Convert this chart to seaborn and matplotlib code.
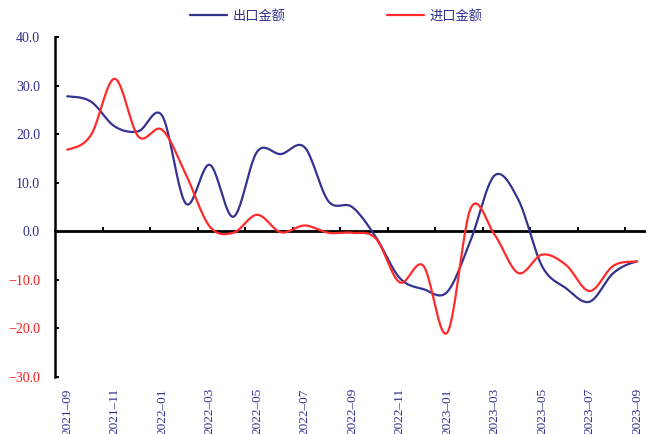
import numpy as np
import pandas as pd
import matplotlib
matplotlib.use("Agg")
import matplotlib.pyplot as plt
import seaborn as sns

# Monthly year-on-year growth (%), 2021-09 .. 2023-09
months = ["2021-09", "2021-10", "2021-11", "2021-12", "2022-01", "2022-02",
          "2022-03", "2022-04", "2022-05", "2022-06", "2022-07", "2022-08",
          "2022-09", "2022-10", "2022-11", "2022-12", "2023-01", "2023-02",
          "2023-03", "2023-04", "2023-05", "2023-06", "2023-07", "2023-08",
          "2023-09"]
export_growth = [27.8, 26.7, 21.6, 20.6, 23.8, 5.7, 13.7, 3.0, 16.4, 15.9,
                 17.3, 6.2, 5.0, -1.2, -9.6, -11.9, -12.5, -1.7, 11.5, 6.5,
                 -7.2, -11.7, -14.5, -8.6, -6.2]
import_growth = [16.8, 19.8, 31.4, 19.5, 20.9, 11.7, 1.0, -0.3, 3.4, -0.2,
                 1.2, -0.3, -0.3, -1.5, -10.5, -7.1, -20.9, 4.8, -0.7, -8.6,
                 -4.8, -6.9, -12.3, -7.1, -6.2]
series_names = ["出口金额", "进口金额"]
y_ticks = [-30, -20, -10, 0, 10, 20, 30, 40]

NAVY = "#35338F"
RED = "#FF2B2B"
LABEL_BLUE = "#2E2E8C"
LABEL_RED = "#FF1A1A"


def smooth(values, steps=24):
    """Catmull-Rom curve through the points (same style as spreadsheet smoothing)."""
    p = np.asarray(values, dtype=float)
    n = len(p)
    padded = np.concatenate([[p[0]], p, [p[-1]]])
    xs, ys = [], []
    for i in range(n - 1):
        p0, p1, p2, p3 = padded[i], padded[i + 1], padded[i + 2], padded[i + 3]
        t = np.linspace(0, 1, steps, endpoint=False)
        c1 = p1 + (p2 - p0) / 6.0
        c2 = p2 - (p3 - p1) / 6.0
        y = ((1 - t) ** 3 * p1 + 3 * (1 - t) ** 2 * t * c1
             + 3 * (1 - t) * t ** 2 * c2 + t ** 3 * p2)
        xs.append(i + t)
        ys.append(y)
    xs.append([n - 1])
    ys.append([p[-1]])
    return np.concatenate(xs), np.concatenate(ys)


frames = []
for name, vals in zip(series_names, [export_growth, import_growth]):
    sx, sy = smooth(vals)
    frames.append(pd.DataFrame({"x": sx, "value": sy, "series": name}))
df = pd.concat(frames, ignore_index=True)

sns.set_theme(style="white")
plt.rcParams["font.family"] = ["Liberation Serif", "Noto Sans CJK SC"]
plt.rcParams["axes.unicode_minus"] = True

fig = plt.figure(figsize=(6.46, 4.34), dpi=100)
ax = fig.add_axes([0.0856, 0.1313, 0.919, 0.7834])

sns.lineplot(data=df, x="x", y="value", hue="series", hue_order=series_names,
             palette=[NAVY, RED], linewidth=1.6, sort=False, estimator=None,
             legend=False, ax=ax)

ax.set_xlim(-0.5, len(months) - 0.5)
ax.set_ylim(-30, 40)
ax.set_xlabel("")
ax.set_ylabel("")

# y axis
ax.set_yticks(y_ticks)
ax.set_yticklabels([f"{v:.1f}".replace("-", "\u2212") for v in y_ticks])
for lab, v in zip(ax.get_yticklabels(), y_ticks):
    lab.set_color(LABEL_BLUE if v >= 0 else LABEL_RED)
ax.tick_params(axis="y", direction="in", length=3, width=1.4, color="black",
               labelsize=10, pad=11, left=True)

# x labels at the bottom, every second month
xt = list(range(0, len(months), 2))
ax.set_xticks(xt)
ax.set_xticklabels([months[i].replace("-", "\u2013") for i in xt], rotation=90,
                   color=LABEL_BLUE)
ax.tick_params(axis="x", length=0, labelsize=9.5, pad=8)

for s in ["top", "right", "bottom"]:
    ax.spines[s].set_visible(False)
ax.spines["left"].set_color("black")
ax.spines["left"].set_linewidth(1.8)

# zero line carrying the category tick marks
sec = ax.secondary_xaxis(30 / 70)
sec.set_alignment("bottom")
sec.set_xticks(np.arange(1.5, len(months) - 1, 2))
sec.tick_params(axis="x", direction="in", length=3, width=1.4, color="black",
                labelbottom=False, labeltop=False, bottom=True)
sec.spines["bottom"].set_linewidth(2)
sec.spines["bottom"].set_color("black")

handles = ax.lines[:2]
leg = fig.legend(handles, series_names, loc="center",
                 bbox_to_anchor=(336 / 646, 1 - 16 / 434), ncol=2,
                 frameon=False, handlelength=2.8, handletextpad=0.4,
                 columnspacing=7.7, prop={"size": 9.5})
for t in leg.get_texts():
    t.set_color(LABEL_BLUE)

fig.savefig("out.png", dpi=100)
